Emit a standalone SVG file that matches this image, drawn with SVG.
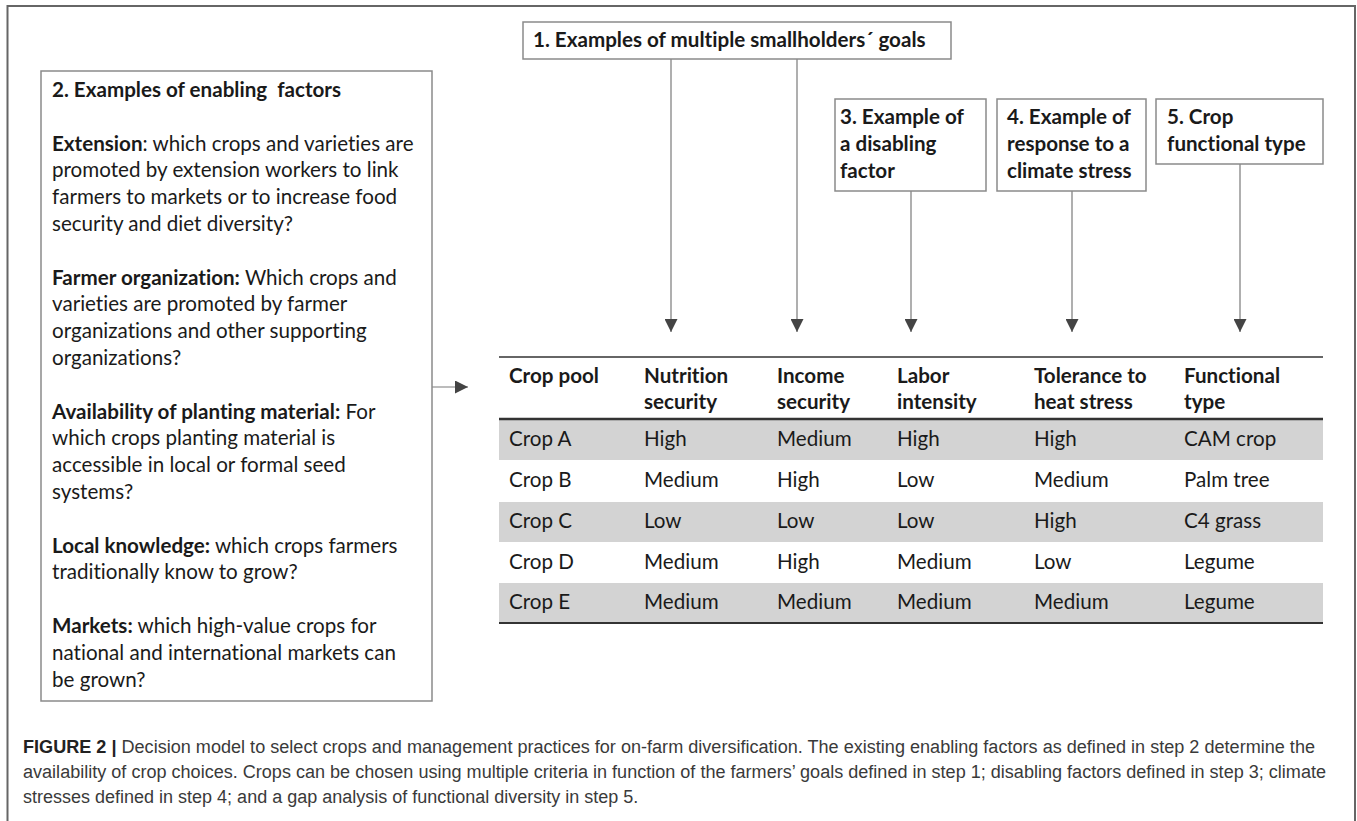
<svg xmlns="http://www.w3.org/2000/svg" width="1357" height="821" viewBox="0 0 1357 821">
<defs>
<style>
.t{font-family:Lato,"Open Sans","Liberation Sans",sans-serif;font-size:20.6px;fill:#1a1a1a;font-variant-ligatures:none}
.b{font-weight:bold}
.box{fill:#fff;stroke:#8a8a8a;stroke-width:1.5}
.con{stroke:#7a7a7a;stroke-width:1.2;fill:none}
.cap{font-family:"Liberation Sans",Arial,sans-serif;font-size:18px;fill:#3a3a3a}
.shade{fill:#d3d3d3}
.rule{stroke:#333;stroke-width:1.5}
</style>
<marker id="ah" viewBox="0 0 10 10" refX="10" refY="5" markerWidth="13" markerHeight="13" markerUnits="userSpaceOnUse" orient="auto">
<path d="M0,0 L10,5 L0,10 Z" fill="#444"/>
</marker>
</defs>
<rect width="1357" height="821" fill="#fff"/>
<path d="M7.5,821 V6 H1355 V821" fill="none" stroke="#666" stroke-width="2"/>

<g id="connectors">
<line class="con" x1="671" y1="59" x2="671" y2="332" marker-end="url(#ah)"/>
<line class="con" x1="797" y1="59" x2="797" y2="332" marker-end="url(#ah)"/>
<line class="con" x1="911" y1="191" x2="911" y2="332" marker-end="url(#ah)"/>
<line class="con" x1="1072" y1="191" x2="1072" y2="332" marker-end="url(#ah)"/>
<line class="con" x1="1240" y1="164" x2="1240" y2="332" marker-end="url(#ah)"/>
<line class="con" x1="432" y1="387" x2="468" y2="387" marker-end="url(#ah)"/>
</g>

<g id="node-enabling">
<rect class="box" x="41" y="71" width="391" height="630"/>
<text class="t" x="52" y="97"><tspan class="b" style="white-space:pre">2. Examples of enabling  factors</tspan></text>
<text class="t" x="52" y="150.6"><tspan class="b">Extension</tspan>: which crops and varieties are</text>
<text class="t" x="52" y="177.4">promoted by extension workers to link</text>
<text class="t" x="52" y="204.2">farmers to markets or to increase food</text>
<text class="t" x="52" y="231">security and diet diversity?</text>
<text class="t" x="52" y="284.6"><tspan class="b">Farmer organization:</tspan> Which crops and</text>
<text class="t" x="52" y="311.4">varieties are promoted by farmer</text>
<text class="t" x="52" y="338.2">organizations and other supporting</text>
<text class="t" x="52" y="365">organizations?</text>
<text class="t" x="52" y="418.6"><tspan class="b">Availability of planting material:</tspan> For</text>
<text class="t" x="52" y="445.4">which crops planting material is</text>
<text class="t" x="52" y="472.2">accessible in local or formal seed</text>
<text class="t" x="52" y="499">systems?</text>
<text class="t" x="52" y="552.6"><tspan class="b">Local knowledge:</tspan> which crops farmers</text>
<text class="t" x="52" y="579.4">traditionally know to grow?</text>
<text class="t" x="52" y="633"><tspan class="b">Markets:</tspan> which high-value crops for</text>
<text class="t" x="52" y="659.8">national and international markets can</text>
<text class="t" x="52" y="686.6">be grown?</text>
</g>

<g id="node-goals">
<rect class="box" x="523" y="22" width="428" height="37"/>
<text class="t b" x="533" y="47">1. Examples of multiple smallholders´ goals</text>
</g>

<g id="node-disabling">
<rect class="box" x="835" y="99" width="151" height="92"/>
<text class="t b" x="840" y="124">3. Example of</text>
<text class="t b" x="840" y="151">a disabling</text>
<text class="t b" x="840" y="178">factor</text>
</g>

<g id="node-climate">
<rect class="box" x="997" y="99" width="149" height="92"/>
<text class="t b" x="1007" y="124">4. Example of</text>
<text class="t b" x="1007" y="151">response to a</text>
<text class="t b" x="1007" y="178">climate stress</text>
</g>

<g id="node-functional">
<rect class="box" x="1156" y="99" width="167" height="65"/>
<text class="t b" x="1167" y="124">5. Crop</text>
<text class="t b" x="1167" y="151">functional type</text>
</g>

<g id="node-table">
<rect class="shade" x="499" y="419" width="824" height="41"/>
<rect class="shade" x="499" y="502" width="824" height="40"/>
<rect class="shade" x="499" y="583" width="824" height="40"/>
<line class="rule" x1="499" y1="357" x2="1323" y2="357"/>
<line class="rule" x1="499" y1="419" x2="1323" y2="419" style="stroke-width:2.5"/>
<line class="rule" x1="499" y1="623" x2="1323" y2="623" style="stroke-width:2"/>
<g class="t b">
<text x="509" y="383">Crop pool</text>
<text x="644" y="383">Nutrition</text><text x="644" y="409">security</text>
<text x="777" y="383">Income</text><text x="777" y="409">security</text>
<text x="897" y="383">Labor</text><text x="897" y="409">intensity</text>
<text x="1034" y="383">Tolerance to</text><text x="1034" y="409">heat stress</text>
<text x="1184" y="383">Functional</text><text x="1184" y="409">type</text>
</g>
<g class="t">
<text x="509" y="446">Crop A</text><text x="644" y="446">High</text><text x="777" y="446">Medium</text><text x="897" y="446">High</text><text x="1034" y="446">High</text><text x="1184" y="446">CAM crop</text>
<text x="509" y="487">Crop B</text><text x="644" y="487">Medium</text><text x="777" y="487">High</text><text x="897" y="487">Low</text><text x="1034" y="487">Medium</text><text x="1184" y="487">Palm tree</text>
<text x="509" y="528">Crop C</text><text x="644" y="528">Low</text><text x="777" y="528">Low</text><text x="897" y="528">Low</text><text x="1034" y="528">High</text><text x="1184" y="528">C4 grass</text>
<text x="509" y="569">Crop D</text><text x="644" y="569">Medium</text><text x="777" y="569">High</text><text x="897" y="569">Medium</text><text x="1034" y="569">Low</text><text x="1184" y="569">Legume</text>
<text x="509" y="609">Crop E</text><text x="644" y="609">Medium</text><text x="777" y="609">Medium</text><text x="897" y="609">Medium</text><text x="1034" y="609">Medium</text><text x="1184" y="609">Legume</text>
</g>
</g>

<g id="caption">
<text class="cap" x="23" y="753" textLength="1292" lengthAdjust="spacingAndGlyphs"><tspan font-weight="bold" fill="#222">FIGURE 2 |</tspan> Decision model to select crops and management practices for on-farm diversification. The existing enabling factors as defined in step 2 determine the</text>
<text class="cap" x="23" y="778" textLength="1303" lengthAdjust="spacingAndGlyphs">availability of crop choices. Crops can be chosen using multiple criteria in function of the farmers’ goals defined in step 1; disabling factors defined in step 3; climate</text>
<text class="cap" x="23" y="803">stresses defined in step 4; and a gap analysis of functional diversity in step 5.</text>
</g>
</svg>
